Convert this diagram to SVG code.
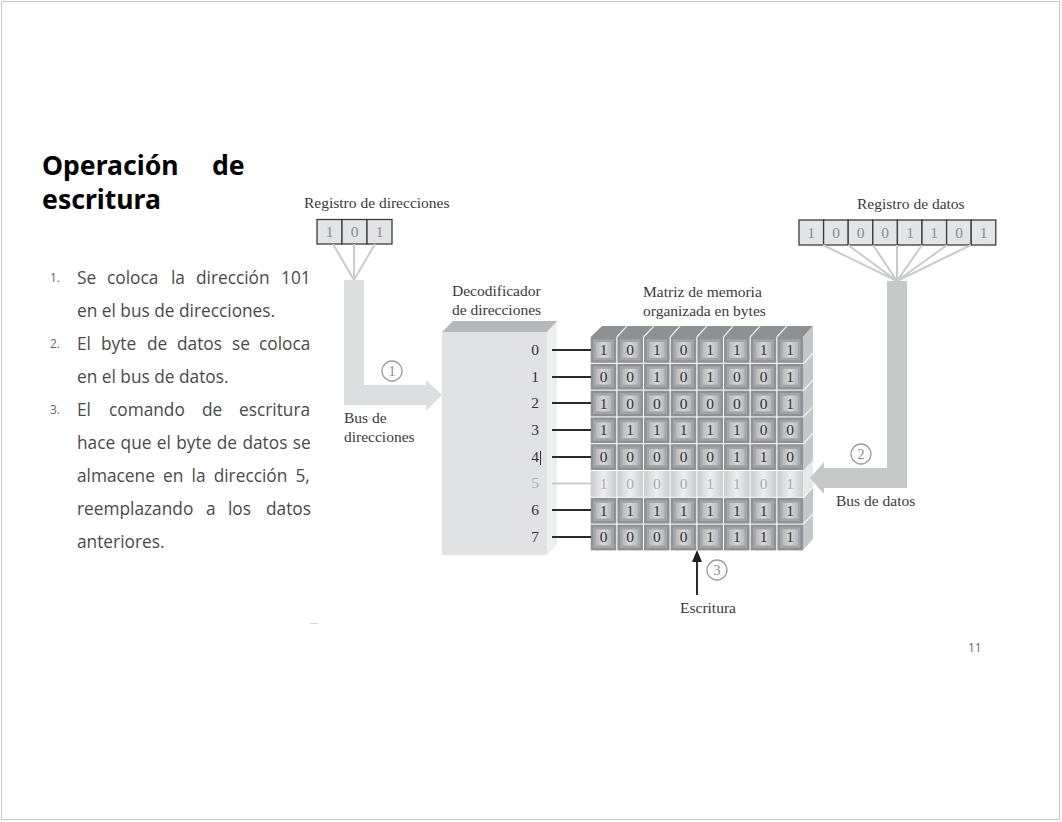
<svg xmlns="http://www.w3.org/2000/svg" width="1062" height="822" viewBox="0 0 1062 822">
<style>
.t{font-family:"Liberation Serif",serif;font-size:15.5px;fill:#3a3a3a}
.d{font-family:"Liberation Serif",serif;font-size:15.5px;fill:#333;text-anchor:middle}
.rb{font-family:"Liberation Serif",serif;font-size:15.5px;fill:#8a8d8f;text-anchor:middle}
.lt{font-family:"Liberation Serif",serif;font-size:15.5px;fill:#a9adaf;text-anchor:middle}
.h{font-family:"Noto Sans",sans-serif;font-weight:700;font-size:26.6px;fill:#000}
.b{font-family:"Open Sans",sans-serif;font-size:17.300px;fill:#4a4a4a}
.n{font-family:"Open Sans",sans-serif;font-size:12px;fill:#666}
.fan{stroke:#c9cbcc;stroke-width:2;fill:none}
.wire{stroke:#2b2b2b;stroke-width:2;fill:none}
.circ{fill:#fff;stroke:#9a9c9d;stroke-width:1.3}
.cn{font-family:"Liberation Serif",serif;font-size:14px;fill:#8a8c8d;text-anchor:middle}
.reg{fill:#e2e4e5;stroke:#3c3c3c;stroke-width:1.3}
.sep{stroke:#fff;stroke-width:1.2;fill:none;opacity:.8}
</style>
<defs>
<linearGradient id="g1" x1="0" x2="1" y1="0" y2="0"><stop offset="0" stop-color="#b6b9bb"/><stop offset=".5" stop-color="#d6d8d9"/><stop offset="1" stop-color="#b6b9bb"/></linearGradient>
<linearGradient id="g2" x1="0" x2="1" y1="0" y2="0"><stop offset="0" stop-color="#c9cccd"/><stop offset=".5" stop-color="#eef0f0"/><stop offset="1" stop-color="#c9cccd"/></linearGradient>
<g id="c"><rect width="25.6" height="25.8" fill="#8f9295"/><rect x="2.500" y="2.500" width="20.600" height="20.800" fill="#a3a6a8"/><rect x="5" y="5" width="15.600" height="15.800" fill="url(#g1)"/></g>
<rect id="l" width="25.6" height="25.8" fill="url(#g2)"/>
</defs>
<rect x="1.5" y="1.5" width="1058" height="818" fill="#fff" stroke="#c8c8c8"/>

<g id="titulo"><text class="h" x="42" y="175">Operación</text><text class="h" x="212" y="175">de</text><text class="h" x="42" y="209">escritura</text></g>

<g id="lista">
<text class="n" x="50" y="282">1.</text>
<text class="b" y="284"><tspan x="77">Se</tspan><tspan x="107">coloca</tspan><tspan x="171">la</tspan><tspan x="196">dirección</tspan><tspan x="281">101</tspan></text>
<text class="b" x="77" y="317">en el bus de direcciones.</text>
<text class="n" x="50" y="348">2.</text>
<text class="b" y="350"><tspan x="77">El</tspan><tspan x="101">byte</tspan><tspan x="147">de</tspan><tspan x="177">datos</tspan><tspan x="232">se</tspan><tspan x="259">coloca</tspan></text>
<text class="b" x="77" y="383">en el bus de datos.</text>
<text class="n" x="50" y="414">3.</text>
<text class="b" y="416"><tspan x="77">El</tspan><tspan x="109">comando</tspan><tspan x="202">de</tspan><tspan x="239">escritura</tspan></text>
<text class="b" x="77" y="449" word-spacing="0.9">hace que el byte de datos se</text>
<text class="b" x="77" y="482" word-spacing="3.7">almacene en la dirección 5,</text>
<text class="b" y="515"><tspan x="77">reemplazando</tspan><tspan x="206">a</tspan><tspan x="228">los</tspan><tspan x="266">datos</tspan></text>
<text class="b" x="77" y="548">anteriores.</text>
</g>

<g id="registro-direcciones">
<text class="t" x="304" y="208">Registro de direcciones</text>
<rect class="reg" x="317" y="219.500" width="25" height="24.500"/><rect class="reg" x="342" y="219.500" width="25" height="24.500"/><rect class="reg" x="367" y="219.500" width="25" height="24.500"/>
<text class="rb" x="329.500 354.500 379.500" y="237">101</text>
</g>

<g id="registro-datos">
<text class="t" x="857" y="209">Registro de datos</text>
<rect class="reg" x="799" y="220" width="24.600" height="25"/><rect class="reg" x="823.600" y="220" width="24.600" height="25"/><rect class="reg" x="848.200" y="220" width="24.600" height="25"/><rect class="reg" x="872.800" y="220" width="24.600" height="25"/><rect class="reg" x="897.400" y="220" width="24.600" height="25"/><rect class="reg" x="922" y="220" width="24.600" height="25"/><rect class="reg" x="946.600" y="220" width="24.600" height="25"/><rect class="reg" x="971.200" y="220" width="24.600" height="25"/>
<text class="rb" x="811 836 860.500 885 910 934 959 983.500" y="238">10001101</text>
</g>

<g id="decodificador">
<text class="t" x="452" y="296">Decodificador</text>
<text class="t" x="452" y="315">de direcciones</text>
<path fill="#edeff0" d="M547 332L557 321V545L547 555Z"/>
<path fill="#e0e2e3" d="M442 332H547V555H442Z"/>
<path fill="#b4b8ba" d="M442 332L453 321H557L547 332Z"/>
<text class="d" x="535" y="355">0</text><text class="d" x="535" y="382">1</text><text class="d" x="535" y="408">2</text><text class="d" x="535" y="435">3</text><text class="d" x="535" y="462">4</text><text class="lt" x="535" y="488">5</text><text class="d" x="535" y="515">6</text><text class="d" x="535" y="542">7</text>
<path stroke="#333" stroke-width="1" d="M540.500 451V465"/>
</g>

<g id="matriz">
<text class="t" x="643" y="297">Matriz de memoria</text>
<text class="t" x="643" y="316">organizada en bytes</text>
<path fill="#8e9194" d="M590.700 337L602 326H813L803 337Z"/>
<path class="sep" d="M616.800 337L627 326M643.500 337L654 326M670.200 337L680 326M696.800 337L707 326M723.500 337L733 326M750.100 337L760 326M776.800 337L787 326"/>
<path fill="#c4c7c9" d="M803 337L813 326V539L803 550Z"/>
<path fill="#e6e8e9" d="M803 471L813 460V487L803 498Z"/>
<path class="sep" d="M803 364L813 353M803 391L813 380M803 417L813 407M803 444L813 433M803 498L813 487M803 524L813 514"/>
<g id="fila0"><use href="#c" x="590.700" y="337"/><use href="#c" x="617.400" y="337"/><use href="#c" x="644" y="337"/><use href="#c" x="670.700" y="337"/><use href="#c" x="697.400" y="337"/><use href="#c" x="724" y="337"/><use href="#c" x="750.700" y="337"/><use href="#c" x="777.400" y="337"/><text class="d" x="603.500 630.200 656.800 683.500 710.200 736.800 763.500 790.200" y="355">10101111</text></g>
<g id="fila1"><use href="#c" x="590.700" y="363.800"/><use href="#c" x="617.400" y="363.800"/><use href="#c" x="644" y="363.800"/><use href="#c" x="670.700" y="363.800"/><use href="#c" x="697.400" y="363.800"/><use href="#c" x="724" y="363.800"/><use href="#c" x="750.700" y="363.800"/><use href="#c" x="777.400" y="363.800"/><text class="d" x="603.500 630.200 656.800 683.500 710.200 736.800 763.500 790.200" y="382">00101001</text></g>
<g id="fila2"><use href="#c" x="590.700" y="390.600"/><use href="#c" x="617.400" y="390.600"/><use href="#c" x="644" y="390.600"/><use href="#c" x="670.700" y="390.600"/><use href="#c" x="697.400" y="390.600"/><use href="#c" x="724" y="390.600"/><use href="#c" x="750.700" y="390.600"/><use href="#c" x="777.400" y="390.600"/><text class="d" x="603.500 630.200 656.800 683.500 710.200 736.800 763.500 790.200" y="408.500">10000001</text></g>
<g id="fila3"><use href="#c" x="590.700" y="417.400"/><use href="#c" x="617.400" y="417.400"/><use href="#c" x="644" y="417.400"/><use href="#c" x="670.700" y="417.400"/><use href="#c" x="697.400" y="417.400"/><use href="#c" x="724" y="417.400"/><use href="#c" x="750.700" y="417.400"/><use href="#c" x="777.400" y="417.400"/><text class="d" x="603.500 630.200 656.800 683.500 710.200 736.800 763.500 790.200" y="435">11111100</text></g>
<g id="fila4"><use href="#c" x="590.700" y="444.200"/><use href="#c" x="617.400" y="444.200"/><use href="#c" x="644" y="444.200"/><use href="#c" x="670.700" y="444.200"/><use href="#c" x="697.400" y="444.200"/><use href="#c" x="724" y="444.200"/><use href="#c" x="750.700" y="444.200"/><use href="#c" x="777.400" y="444.200"/><text class="d" x="603.500 630.200 656.800 683.500 710.200 736.800 763.500 790.200" y="462">00000110</text></g>
<g id="fila5"><use href="#l" x="590.700" y="471"/><use href="#l" x="617.400" y="471"/><use href="#l" x="644" y="471"/><use href="#l" x="670.700" y="471"/><use href="#l" x="697.400" y="471"/><use href="#l" x="724" y="471"/><use href="#l" x="750.700" y="471"/><use href="#l" x="777.400" y="471"/><text class="lt" x="603.500 630.200 656.800 683.500 710.200 736.800 763.500 790.200" y="489">10001101</text></g>
<g id="fila6"><use href="#c" x="590.700" y="497.800"/><use href="#c" x="617.400" y="497.800"/><use href="#c" x="644" y="497.800"/><use href="#c" x="670.700" y="497.800"/><use href="#c" x="697.400" y="497.800"/><use href="#c" x="724" y="497.800"/><use href="#c" x="750.700" y="497.800"/><use href="#c" x="777.400" y="497.800"/><text class="d" x="603.500 630.200 656.800 683.500 710.200 736.800 763.500 790.200" y="515.500">11111111</text></g>
<g id="fila7"><use href="#c" x="590.700" y="524.600"/><use href="#c" x="617.400" y="524.600"/><use href="#c" x="644" y="524.600"/><use href="#c" x="670.700" y="524.600"/><use href="#c" x="697.400" y="524.600"/><use href="#c" x="724" y="524.600"/><use href="#c" x="750.700" y="524.600"/><use href="#c" x="777.400" y="524.600"/><text class="d" x="603.500 630.200 656.800 683.500 710.200 736.800 763.500 790.200" y="542">00001111</text></g>
</g>

<g id="connectors">
<path class="fan" d="M333 244L354 280M354 244V280M375 244L354 280"/>
<path class="fan" d="M823 245L897 281M848 245L897 281M873 245L897 281M897 245V281M922 245L897 281M947 245L897 281M971 245L897 281"/>
<path id="bus-direcciones" fill="#dcdfe0" d="M344 280H364V385H426V380L442 395L426 411V405H344Z"/>
<path id="bus-datos" fill="#c6c8c9" d="M887 281H907V488H824V494L810 478L824 462V468H887Z"/>
<path class="wire" d="M552 350H591M552 377H591M552 403H591M552 430H591M552 457H591M552 510H591M552 537H591"/>
<path d="M552 483.500H591" stroke="#c9cbcc" stroke-width="2" fill="none"/>
<path class="wire" d="M697 595V560"/>
<path fill="#1e1e1e" d="M697 550L702 562H692Z"/>
</g>

<g id="etiquetas">
<text class="t" x="344" y="423">Bus de</text>
<text class="t" x="344" y="442">direcciones</text>
<text class="t" x="836" y="506">Bus de datos</text>
<text class="t" x="680" y="613">Escritura</text>
</g>
<g id="paso1"><circle class="circ" cx="392" cy="371" r="10"/><text class="cn" x="392" y="375.500">1</text></g>
<g id="paso2"><circle class="circ" cx="861" cy="454" r="10"/><text class="cn" x="861" y="458.500">2</text></g>
<g id="paso3"><circle class="circ" cx="717" cy="570" r="10"/><text class="cn" x="717" y="574.500">3</text></g>
<g id="pagina"><text class="n" x="968" y="652">11</text></g>
<path d="M310 623.500H318" stroke="#d8d8d8" stroke-width="1"/>
</svg>
